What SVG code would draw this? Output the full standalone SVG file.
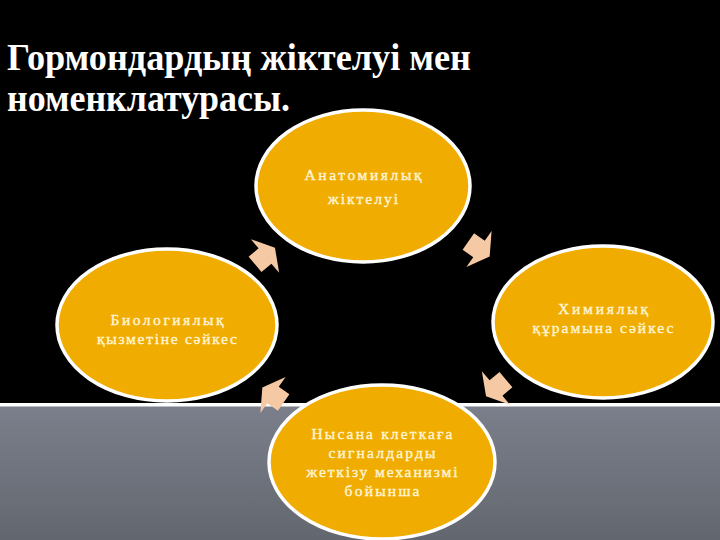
<svg xmlns="http://www.w3.org/2000/svg" width="720" height="540" viewBox="0 0 720 540">
  <defs>
    <linearGradient id="band" x1="0" y1="0" x2="0" y2="1">
      <stop offset="0" stop-color="#7a7f8b"/>
      <stop offset="1" stop-color="#62676f"/>
    </linearGradient>
    <polygon id="arr" points="-13,-10 0,-10 0,-22 13,0 0,22 0,10 -13,10"/>
    <style>
      .title { font-family: "Liberation Serif", "Times New Roman", serif; font-weight: bold; font-size: 38px; fill: #ffffff; }
      .node ellipse { fill: #f0ac00; stroke: #ffffff; stroke-width: 3.5; }
      .node text { font-family: "Liberation Serif", "Times New Roman", serif; font-size: 15.5px; fill: #fff4d2; stroke: #fff4d2; stroke-width: 0.4; text-anchor: middle; }
      .conn use { fill: #f5c9a3; }
    </style>
  </defs>

  <rect x="0" y="0" width="720" height="540" fill="#000000"/>
  <rect x="0" y="406" width="720" height="134" fill="url(#band)"/>
  <rect x="0" y="403" width="720" height="3.5" fill="#ffffff"/>

  <text class="title" x="7" y="70" textLength="464" lengthAdjust="spacingAndGlyphs">Гормондардың жіктелуі мен</text>
  <text class="title" x="7" y="111" textLength="283" lengthAdjust="spacingAndGlyphs">номенклатурасы.</text>

  <g id="connectors" class="conn">
    <use href="#arr" transform="translate(265,256) rotate(-40)"/>
    <use href="#arr" transform="translate(479,249) rotate(35)"/>
    <use href="#arr" transform="translate(496,388) rotate(140)"/>
    <use href="#arr" transform="translate(273,395) rotate(215)"/>
  </g>

  <g id="node-anatomy" class="node">
    <ellipse cx="363" cy="186" rx="107" ry="76"/>
    <text x="363" y="180" textLength="117" lengthAdjust="spacing">Анатомиялық</text>
    <text x="363" y="204" textLength="70" lengthAdjust="spacing">жіктелуі</text>
  </g>

  <g id="node-chemical" class="node">
    <ellipse cx="603" cy="322" rx="110" ry="76"/>
    <text x="603" y="314" textLength="90" lengthAdjust="spacing">Химиялық</text>
    <text x="603" y="333" textLength="141" lengthAdjust="spacing">құрамына сәйкес</text>
  </g>

  <g id="node-mechanism" class="node">
    <ellipse cx="382" cy="462" rx="113" ry="77"/>
    <text x="382" y="439" textLength="141" lengthAdjust="spacing">Нысана клеткаға</text>
    <text x="382" y="458" textLength="107" lengthAdjust="spacing">сигналдарды</text>
    <text x="382" y="477" textLength="151" lengthAdjust="spacing">жеткізу механизмі</text>
    <text x="382" y="496" textLength="75" lengthAdjust="spacing">бойынша</text>
  </g>

  <g id="node-biological" class="node">
    <ellipse cx="167" cy="325" rx="110" ry="76"/>
    <text x="167" y="325" textLength="113" lengthAdjust="spacing">Биологиялық</text>
    <text x="167" y="344" textLength="140" lengthAdjust="spacing">қызметіне сәйкес</text>
  </g>
</svg>
